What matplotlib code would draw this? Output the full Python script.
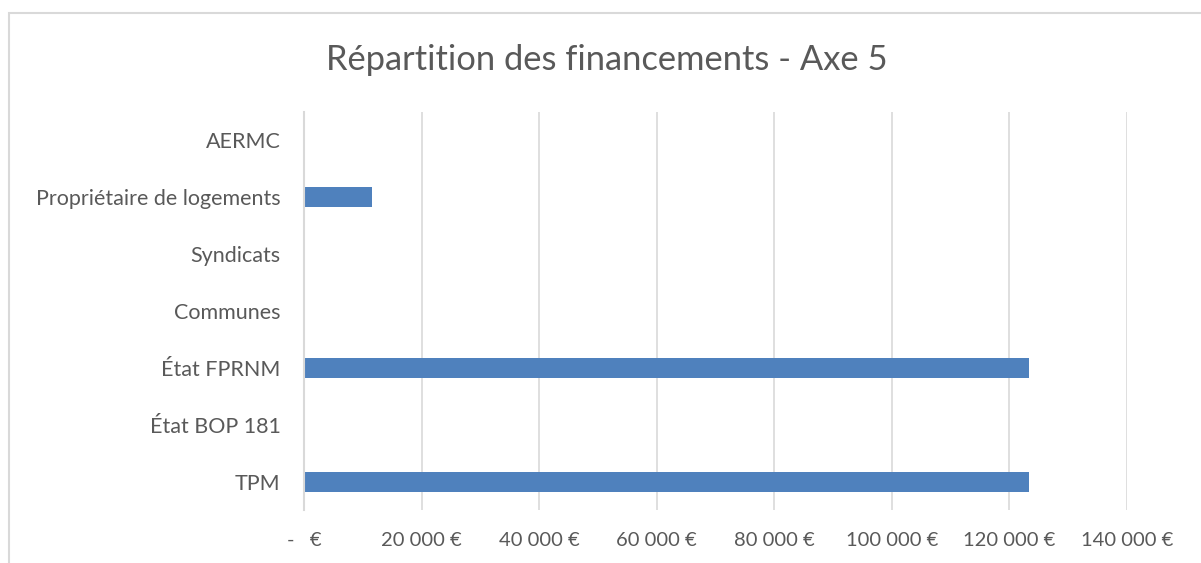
import matplotlib
matplotlib.use("Agg")
import matplotlib.pyplot as plt
from matplotlib.patches import Rectangle
from matplotlib.ticker import FixedLocator, FixedFormatter

# Data
categories = ["TPM", "État BOP 181", "État FPRNM", "Communes", "Syndicats",
              "Propriétaire de logements", "AERMC"]
amounts = [123300, 0, 123300, 0, 0, 11500, 0]
tick_values = [0, 20000, 40000, 60000, 80000, 100000, 120000, 140000]
tick_labels = ["-   €", "20 000 €", "40 000 €", "60 000 €", "80 000 €",
               "100 000 €", "120 000 €", "140 000 €"]

text_color = "#595959"
grid_color = "#D9D9D9"
bar_color = "#4F81BD"

plt.rcParams["font.family"] = ["Lato", "DejaVu Sans"]

fig = plt.figure(figsize=(12.01, 5.63), dpi=100)
W, H = 1201, 563

# chart border (cropped at right and bottom)
fig.patches.append(Rectangle((9 / W, -0.05), 1.05, 1 - 13 / H + 0.05,
                             transform=fig.transFigure, fill=False,
                             edgecolor="#D9D9D9", linewidth=1.5))

ax = fig.add_axes([304 / W, 1 - 510 / H, 823 / W, 398 / H])
ax.barh(range(len(categories)), amounts, height=0.35, color=bar_color)

ax.set_xlim(0, 140000)
ax.set_ylim(-0.5, len(categories) - 0.5)
ax.xaxis.set_major_locator(FixedLocator(tick_values))
ax.xaxis.set_major_formatter(FixedFormatter(tick_labels))
ax.set_yticks(range(len(categories)))
ax.set_yticklabels(categories)

ax.grid(axis="x", color=grid_color, linewidth=1.2)
ax.set_axisbelow(True)
for s in ["top", "right", "bottom"]:
    ax.spines[s].set_visible(False)
ax.spines["left"].set_color(grid_color)
ax.spines["left"].set_linewidth(1.5)
ax.tick_params(axis="both", length=0, colors=text_color)
ax.tick_params(axis="y", pad=17, labelsize=15.5)
ax.tick_params(axis="x", pad=16, labelsize=14.5)

fig.text(607 / W, 1 - 60 / H, "Répartition des financements - Axe 5",
         ha="center", va="center", fontsize=24.8, color=text_color)

fig.savefig("out.png", dpi=100)
